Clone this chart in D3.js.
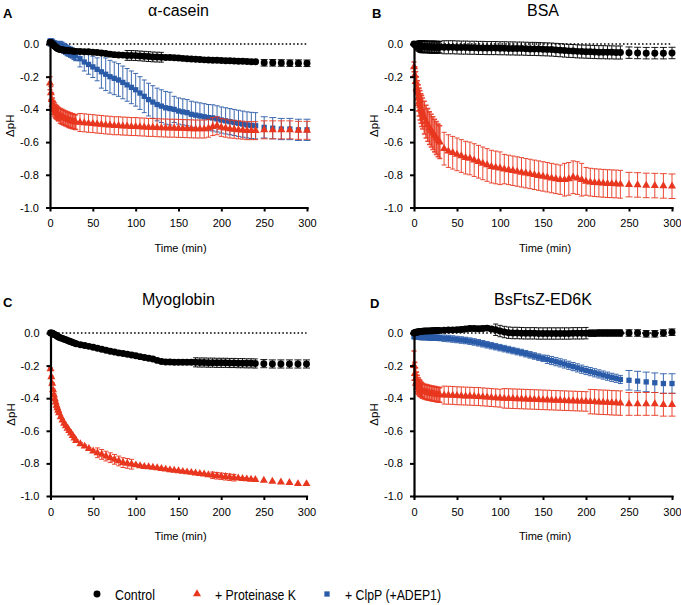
<!DOCTYPE html>
<html><head><meta charset="utf-8">
<script src="https://cdn.jsdelivr.net/npm/d3@7"></script>
<style>
body{margin:0;background:#fff}
svg{display:block}
text{font-family:"Liberation Sans",Arial,Helvetica,sans-serif;fill:#000}
</style>
</head><body>
<svg id="c" width="681" height="605"></svg>
<script>
// ---------- DATA ----------
const TIME = [0,1,2,3,4,5,6,7,8,9,10,
 12,14,16,18,20,22,24,26,28,30,
 35,40,45,50,55,60,65,70,75,80,
 85,90,95,100,105,110,115,120,125,130,
 135,140,145,150,155,160,165,170,175,180,
 185,190,195,200,205,210,215,220,225,230,
 235,240,
 250,260,270,280,290,300];

const X_TICKS = [0,50,100,150,200,250,300];
const Y_TICKS = [0,-0.2,-0.4,-0.6,-0.8,-1.0];
const Y_TICK_LABELS = ["0.0","-0.2","-0.4","-0.6","-0.8","-1.0"];
const SERIES_NAMES = ["Control","+ Proteinase K","+ ClpP (+ADEP1)"];
const PANEL_TITLES = ["α-casein","BSA","Myoglobin","BsFtsZ-ED6K"];
const PANEL_LETTERS = ["A","B","C","D"];

// Panel A: α-casein
const A_ctrl = [0.01,0.01,0.005,0,-0.005,-0.01,-0.015,-0.02,-0.025,-0.028,-0.03,
 -0.033,-0.035,-0.037,-0.039,-0.04,-0.041,-0.042,-0.043,-0.044,-0.045,
 -0.046,-0.047,-0.048,-0.05,-0.052,-0.055,-0.058,-0.062,-0.065,-0.067,
 -0.068,-0.07,-0.07,-0.071,-0.073,-0.075,-0.077,-0.079,-0.08,-0.081,
 -0.082,-0.083,-0.084,-0.086,-0.088,-0.09,-0.092,-0.093,-0.095,-0.097,
 -0.098,-0.099,-0.1,-0.101,-0.102,-0.103,-0.104,-0.105,-0.106,-0.107,
 -0.108,-0.109,
 -0.115,-0.115,-0.116,-0.117,-0.117,-0.118];
const A_ctrl_sd = [0.01,0.01,0.01,0.01,0.01,0.01,0.01,0.01,0.01,0.01,0.01,
 0.012,0.012,0.012,0.012,0.012,0.012,0.012,0.012,0.012,0.012,
 0.012,0.012,0.012,0.012,0.012,0.012,0.012,0.012,0.012,0.012,
 0.012,0.03,0.03,0.03,0.03,0.03,0.03,0.03,0.03,0.03,
 0.012,0.012,0.012,0.012,0.012,0.012,0.012,0.012,0.012,0.012,
 0.012,0.012,0.012,0.012,0.012,0.012,0.012,0.012,0.012,0.012,
 0.012,0.012,
 0.02,0.02,0.02,0.02,0.02,0.02];
const A_pk = [-0.24,-0.3,-0.34,-0.37,-0.39,-0.4,-0.41,-0.415,-0.42,-0.425,-0.43,
 -0.44,-0.445,-0.45,-0.455,-0.46,-0.465,-0.468,-0.472,-0.475,-0.478,
 -0.48,-0.482,-0.485,-0.487,-0.49,-0.492,-0.495,-0.497,-0.5,-0.5,
 -0.502,-0.503,-0.505,-0.505,-0.507,-0.508,-0.51,-0.51,-0.512,-0.513,
 -0.514,-0.515,-0.515,-0.516,-0.517,-0.518,-0.519,-0.52,-0.52,-0.52,
 -0.515,-0.505,-0.5,-0.51,-0.515,-0.52,-0.522,-0.525,-0.527,-0.53,
 -0.53,-0.53,
 -0.525,-0.525,-0.525,-0.525,-0.528,-0.528];
const A_pk_sd = [0.04,0.04,0.04,0.04,0.04,0.04,0.04,0.04,0.04,0.04,0.04,
 0.045,0.045,0.045,0.045,0.045,0.045,0.045,0.045,0.045,0.045,
 0.055,0.055,0.055,0.055,0.055,0.055,0.055,0.055,0.055,0.055,
 0.055,0.055,0.055,0.055,0.055,0.055,0.055,0.055,0.055,0.055,
 0.055,0.055,0.055,0.055,0.055,0.055,0.055,0.055,0.055,0.055,
 0.055,0.055,0.055,0.055,0.055,0.055,0.055,0.055,0.055,0.055,
 0.055,0.055,
 0.055,0.055,0.055,0.055,0.055,0.055];
const A_clp = [0.01,0.01,0.01,0.005,0,0,-0.005,-0.005,-0.01,-0.01,-0.012,
 -0.015,-0.02,-0.027,-0.033,-0.04,-0.045,-0.05,-0.056,-0.063,-0.07,
 -0.09,-0.11,-0.125,-0.14,-0.155,-0.17,-0.185,-0.2,-0.21,-0.22,
 -0.235,-0.25,-0.265,-0.28,-0.3,-0.32,-0.34,-0.355,-0.37,-0.38,
 -0.39,-0.395,-0.4,-0.41,-0.415,-0.42,-0.43,-0.435,-0.44,-0.445,
 -0.45,-0.452,-0.458,-0.465,-0.47,-0.475,-0.48,-0.485,-0.49,-0.495,
 -0.498,-0.5,
 -0.51,-0.515,-0.52,-0.52,-0.525,-0.525];
const A_clp_sd = [0.02,0.02,0.02,0.02,0.02,0.02,0.02,0.02,0.02,0.02,0.02,
 0.03,0.03,0.03,0.03,0.03,0.03,0.03,0.03,0.03,0.03,
 0.05,0.055,0.06,0.065,0.07,0.1,0.1,0.1,0.1,0.1,
 0.1,0.1,0.1,0.1,0.1,0.1,0.1,0.1,0.1,0.1,
 0.1,0.1,0.08,0.08,0.08,0.08,0.08,0.08,0.08,0.08,
 0.08,0.08,0.08,0.08,0.08,0.08,0.08,0.08,0.08,0.08,
 0.08,0.08,
 0.065,0.065,0.065,0.065,0.065,0.065];

// Panel B: BSA
const B_ctrl = [0,-0.005,-0.008,-0.01,-0.012,-0.013,-0.014,-0.015,-0.015,-0.016,-0.016,
 -0.017,-0.017,-0.018,-0.018,-0.019,-0.019,-0.019,-0.02,-0.02,-0.02,
 -0.02,-0.02,-0.02,-0.021,-0.022,-0.022,-0.023,-0.023,-0.024,-0.024,
 -0.025,-0.025,-0.025,-0.026,-0.026,-0.027,-0.027,-0.028,-0.028,-0.029,
 -0.03,-0.03,-0.031,-0.032,-0.033,-0.034,-0.036,-0.038,-0.04,-0.042,
 -0.043,-0.045,-0.046,-0.047,-0.048,-0.049,-0.05,-0.05,-0.051,-0.051,
 -0.052,-0.052,
 -0.053,-0.055,-0.056,-0.056,-0.056,-0.055];
const B_ctrl_sd = [0,0.01,0.015,0.02,0.025,0.03,0.03,0.035,0.035,0.035,0.035,
 0.035,0.035,0.035,0.035,0.035,0.035,0.035,0.035,0.035,0.035,
 0.04,0.04,0.04,0.04,0.04,0.04,0.04,0.04,0.04,0.04,
 0.04,0.04,0.04,0.04,0.04,0.04,0.04,0.04,0.04,0.04,
 0.04,0.04,0.04,0.04,0.04,0.04,0.04,0.04,0.04,0.04,
 0.04,0.04,0.04,0.04,0.04,0.04,0.04,0.04,0.04,0.04,
 0.04,0.04,
 0.035,0.035,0.035,0.035,0.035,0.035];
const B_pk = [-0.14,-0.19,-0.23,-0.27,-0.3,-0.33,-0.355,-0.375,-0.395,-0.41,-0.425,
 -0.45,-0.475,-0.495,-0.515,-0.53,-0.545,-0.56,-0.575,-0.59,-0.6,
 -0.64,-0.655,-0.665,-0.675,-0.685,-0.695,-0.7,-0.71,-0.72,-0.73,
 -0.74,-0.75,-0.755,-0.76,-0.765,-0.77,-0.775,-0.78,-0.785,-0.79,
 -0.795,-0.8,-0.805,-0.81,-0.815,-0.82,-0.825,-0.83,-0.83,-0.825,
 -0.815,-0.82,-0.83,-0.84,-0.845,-0.848,-0.85,-0.852,-0.854,-0.855,
 -0.856,-0.858,
 -0.86,-0.862,-0.865,-0.866,-0.868,-0.87];
const B_pk_sd = [0.03,0.05,0.06,0.07,0.075,0.08,0.085,0.09,0.09,0.095,0.095,
 0.1,0.1,0.1,0.1,0.1,0.1,0.1,0.1,0.1,0.1,
 0.1,0.1,0.1,0.1,0.1,0.1,0.1,0.1,0.1,0.1,
 0.1,0.1,0.1,0.1,0.09,0.09,0.09,0.09,0.09,0.09,
 0.09,0.09,0.09,0.09,0.09,0.09,0.09,0.09,0.1,0.1,
 0.1,0.1,0.1,0.085,0.085,0.085,0.085,0.085,0.085,0.085,
 0.085,0.085,
 0.075,0.075,0.075,0.075,0.075,0.075];

// Panel C: Myoglobin
const C_ctrl = [0,0,-0.002,-0.005,-0.008,-0.01,-0.013,-0.016,-0.02,-0.023,-0.026,
 -0.03,-0.034,-0.038,-0.042,-0.046,-0.05,-0.054,-0.058,-0.062,-0.066,
 -0.072,-0.077,-0.082,-0.088,-0.093,-0.1,-0.106,-0.112,-0.117,-0.122,
 -0.126,-0.13,-0.135,-0.14,-0.145,-0.15,-0.155,-0.16,-0.168,-0.175,
 -0.178,-0.178,-0.179,-0.179,-0.18,-0.18,-0.18,-0.18,-0.181,-0.181,
 -0.182,-0.182,-0.183,-0.183,-0.183,-0.184,-0.184,-0.185,-0.185,-0.186,
 -0.186,-0.187,
 -0.188,-0.19,-0.19,-0.19,-0.19,-0.19];
const C_ctrl_sd = [0.003,0.003,0.003,0.003,0.003,0.003,0.003,0.003,0.003,0.003,0.003,
 0.003,0.003,0.003,0.003,0.003,0.003,0.003,0.003,0.003,0.003,
 0.003,0.003,0.003,0.003,0.003,0.003,0.003,0.003,0.003,0.003,
 0.003,0.003,0.003,0.003,0.003,0.003,0.003,0.003,0.008,0.008,
 0.008,0.008,0.008,0.008,0.008,0.008,0.008,0.028,0.028,0.028,
 0.028,0.028,0.028,0.028,0.028,0.028,0.028,0.028,0.028,0.028,
 0.028,0.028,
 0.025,0.025,0.025,0.025,0.025,0.025];
const C_pk = [-0.22,-0.27,-0.31,-0.35,-0.38,-0.405,-0.425,-0.445,-0.46,-0.475,-0.49,
 -0.515,-0.535,-0.555,-0.57,-0.585,-0.6,-0.615,-0.63,-0.645,-0.66,
 -0.68,-0.695,-0.71,-0.725,-0.735,-0.745,-0.755,-0.765,-0.775,-0.785,
 -0.795,-0.8,-0.805,-0.81,-0.815,-0.82,-0.822,-0.825,-0.828,-0.832,
 -0.836,-0.84,-0.843,-0.846,-0.85,-0.853,-0.856,-0.86,-0.863,-0.866,
 -0.87,-0.873,-0.876,-0.879,-0.882,-0.885,-0.888,-0.89,-0.893,-0.896,
 -0.898,-0.9,
 -0.905,-0.91,-0.915,-0.918,-0.925,-0.925];
const C_pk_sd = [0.005,0.005,0.005,0.005,0.005,0.005,0.005,0.005,0.005,0.005,0.005,
 0.005,0.005,0.005,0.005,0.005,0.005,0.005,0.005,0.005,0.005,
 0.008,0.008,0.008,0.008,0.03,0.03,0.03,0.03,0.03,0.03,
 0.03,0.03,0.03,0.005,0.005,0.005,0.005,0.005,0.005,0.005,
 0.005,0.005,0.005,0.005,0.005,0.005,0.005,0.005,0.005,0.005,
 0.005,0.02,0.02,0.02,0.02,0.02,0.02,0.005,0.005,0.005,
 0.005,0.005,
 0.004,0.004,0.004,0.004,0.004,0.004];

// Panel D: BsFtsZ-ED6K
const D_ctrl = [0,0.002,0.004,0.005,0.006,0.007,0.008,0.009,0.01,0.01,0.011,
 0.012,0.012,0.013,0.013,0.014,0.014,0.015,0.015,0.015,0.016,
 0.017,0.018,0.019,0.02,0.022,0.025,0.028,0.027,0.026,0.028,
 0.03,0.025,0.02,0.012,0.006,0.002,0,0,-0.001,-0.002,
 -0.002,-0.002,-0.003,-0.003,-0.003,-0.003,-0.003,-0.003,-0.003,-0.003,
 -0.002,-0.002,-0.002,-0.001,-0.001,-0.001,0,0,0,0,
 0,0,
 0,0,-0.005,-0.005,0,0.005];
const D_ctrl_sd = [0.01,0.01,0.01,0.01,0.01,0.01,0.01,0.01,0.01,0.01,0.01,
 0.01,0.01,0.01,0.01,0.01,0.01,0.01,0.01,0.01,0.01,
 0.01,0.01,0.01,0.01,0.015,0.015,0.015,0.015,0.015,0.015,
 0.015,0.015,0.035,0.035,0.035,0.035,0.035,0.035,0.035,0.035,
 0.035,0.035,0.035,0.035,0.035,0.035,0.035,0.035,0.035,0.035,
 0.035,0.035,0.035,0.035,0.02,0.02,0.02,0.02,0.02,0.02,
 0.02,0.02,
 0.02,0.02,0.02,0.02,0.02,0.02];
const D_pk = [-0.2,-0.25,-0.28,-0.3,-0.315,-0.325,-0.335,-0.34,-0.345,-0.35,-0.355,
 -0.36,-0.362,-0.365,-0.367,-0.37,-0.372,-0.374,-0.376,-0.378,-0.38,
 -0.381,-0.382,-0.383,-0.385,-0.386,-0.387,-0.388,-0.389,-0.39,-0.392,
 -0.394,-0.396,-0.398,-0.4,-0.401,-0.402,-0.403,-0.404,-0.405,-0.406,
 -0.407,-0.408,-0.409,-0.41,-0.411,-0.412,-0.413,-0.414,-0.415,-0.416,
 -0.417,-0.418,-0.419,-0.42,-0.421,-0.422,-0.424,-0.425,-0.426,-0.428,
 -0.429,-0.43,
 -0.435,-0.435,-0.435,-0.435,-0.44,-0.44];
const D_pk_sd = [0.09,0.07,0.065,0.06,0.055,0.05,0.05,0.05,0.045,0.045,0.045,
 0.045,0.045,0.045,0.045,0.045,0.045,0.045,0.045,0.045,0.045,
 0.055,0.055,0.055,0.055,0.055,0.055,0.055,0.055,0.055,0.055,
 0.055,0.055,0.055,0.055,0.06,0.06,0.06,0.06,0.06,0.06,
 0.06,0.06,0.06,0.06,0.06,0.06,0.06,0.06,0.06,0.06,
 0.06,0.06,0.06,0.06,0.075,0.075,0.075,0.075,0.075,0.075,
 0.075,0.075,
 0.07,0.07,0.07,0.07,0.07,0.07];
const D_clp = [-0.02,-0.02,-0.021,-0.021,-0.022,-0.022,-0.023,-0.023,-0.024,-0.024,-0.025,
 -0.025,-0.026,-0.026,-0.027,-0.027,-0.028,-0.028,-0.029,-0.029,-0.03,
 -0.032,-0.034,-0.037,-0.04,-0.043,-0.046,-0.05,-0.055,-0.06,-0.066,
 -0.072,-0.078,-0.084,-0.09,-0.096,-0.102,-0.108,-0.114,-0.12,-0.127,
 -0.134,-0.141,-0.148,-0.155,-0.162,-0.169,-0.176,-0.183,-0.19,-0.198,
 -0.206,-0.214,-0.222,-0.23,-0.237,-0.244,-0.251,-0.258,-0.265,-0.272,
 -0.278,-0.285,
 -0.29,-0.295,-0.3,-0.305,-0.31,-0.31];
const D_clp_sd = [0.015,0.015,0.015,0.015,0.015,0.015,0.015,0.015,0.015,0.015,0.015,
 0.015,0.015,0.015,0.015,0.015,0.015,0.015,0.015,0.015,0.015,
 0.02,0.02,0.02,0.02,0.02,0.02,0.02,0.02,0.02,0.02,
 0.02,0.02,0.02,0.02,0.02,0.02,0.02,0.02,0.02,0.02,
 0.02,0.02,0.02,0.02,0.025,0.025,0.025,0.025,0.025,0.025,
 0.025,0.025,0.025,0.025,0.025,0.025,0.025,0.025,0.025,0.025,
 0.025,0.025,
 0.06,0.06,0.06,0.06,0.06,0.06];

// ---------- STYLE / LAYOUT ----------
const COLORS = {ctrl:"#000000", pk:"#e8361f", clp:"#2a5ba8"};
const SYMBOLS = {ctrl:d3.symbolCircle, pk:d3.symbolTriangle, clp:d3.symbolSquare};
const SYM_SIZE = {ctrl:38, pk:28, clp:28};

const panels = [
  {i:0, box:{x0:50, x1:307, yt:44, yb:207.5}, letter:{x:3, y:18}, titleY:16,
   series:[{k:"clp", m:A_clp, s:A_clp_sd},{k:"pk", m:A_pk, s:A_pk_sd},{k:"ctrl", m:A_ctrl, s:A_ctrl_sd}]},
  {i:1, box:{x0:414, x1:672, yt:44, yb:207.5}, letter:{x:372, y:18}, titleY:16,
   series:[{k:"pk", m:B_pk, s:B_pk_sd},{k:"ctrl", m:B_ctrl, s:B_ctrl_sd}]},
  {i:2, box:{x0:50.5, x1:306.5, yt:333, yb:496}, letter:{x:3, y:307}, titleY:305,
   series:[{k:"pk", m:C_pk, s:C_pk_sd},{k:"ctrl", m:C_ctrl, s:C_ctrl_sd}]},
  {i:3, box:{x0:414, x1:672, yt:333, yb:496}, letter:{x:370, y:308}, titleY:305,
   series:[{k:"clp", m:D_clp, s:D_clp_sd},{k:"pk", m:D_pk, s:D_pk_sd},{k:"ctrl", m:D_ctrl, s:D_ctrl_sd}]}
];

const svg = d3.select("#c");

panels.forEach(p => {
  const b = p.box;
  const x = d3.scaleLinear().domain([0,300]).range([b.x0,b.x1]);
  const y = d3.scaleLinear().domain([-1,0]).range([b.yb,b.yt]);
  const g = svg.append("g");

  // dotted zero line
  g.append("line")
    .attr("x1", x(0)).attr("x2", x(300)).attr("y1", y(0)).attr("y2", y(0))
    .attr("stroke","#000").attr("stroke-width",1.6).attr("stroke-dasharray","1.6,2.2");

  // series
  p.series.forEach(s => {
    const data = TIME.map((t,j)=>({t, m:s.m[j], sd:s.s[j]}));
    const col = COLORS[s.k];
    const sg = g.append("g");
    sg.selectAll("path.err").data(data.filter(d=>d.sd>0.004)).join("path")
      .attr("class","err")
      .attr("fill","none").attr("stroke",col)
      .attr("stroke-width", d => d.t<=30 ? 1.6 : 1)
      .attr("stroke-opacity",0.9)
      .attr("d", d => {
        const cx = x(d.t), w = d.t>240 ? 3.5 : 2.5;
        const y1 = y(d.m + d.sd), y2 = y(d.m - d.sd);
        return `M${cx-w},${y1}H${cx+w}M${cx},${y1}V${y2}M${cx-w},${y2}H${cx+w}`;
      });
    sg.selectAll("path.mk").data(data).join("path")
      .attr("class","mk")
      .attr("fill",col)
      .attr("transform", d=>`translate(${x(d.t)},${y(d.m)})`)
      .attr("d", d3.symbol().type(SYMBOLS[s.k]).size(SYM_SIZE[s.k]));
  });

  // axes
  const ya = g.append("g").attr("transform",`translate(${b.x0},0)`)
    .call(d3.axisLeft(y).tickValues(Y_TICKS).tickFormat((d,i)=>Y_TICK_LABELS[i])
      .tickSize(4).tickPadding(7).tickSizeOuter(0));
  const xa = g.append("g").attr("transform",`translate(0,${b.yb})`)
    .call(d3.axisBottom(x).tickValues(X_TICKS).tickFormat(d=>String(d))
      .tickSize(4).tickPadding(8).tickSizeOuter(0));
  [ya,xa].forEach(a=>{
    a.select(".domain").attr("stroke-width",2.2).attr("stroke-linecap","square");
    a.selectAll(".tick line").attr("stroke-width",2);
    a.selectAll(".tick text").attr("font-size",11).attr("font-family",'"Liberation Sans",Arial,sans-serif');
  });

  // labels
  g.append("text").attr("x",(b.x0+b.x1)/2+2).attr("y",b.yb+44)
    .attr("text-anchor","middle").attr("font-size",11).text("Time (min)");
  g.append("text").attr("transform",`translate(${b.x0-36},${(b.yt+b.yb)/2}) rotate(-90)`)
    .attr("text-anchor","middle").attr("font-size",11.5).text("ΔpH");
  g.append("text").attr("x",(b.x0+b.x1)/2).attr("y",p.titleY)
    .attr("text-anchor","middle").attr("font-size",16).text(PANEL_TITLES[p.i]);
  g.append("text").attr("x",p.letter.x).attr("y",p.letter.y)
    .attr("font-size",13).attr("font-weight","bold").text(PANEL_LETTERS[p.i]);
});

// legend
const legendKeys = ["ctrl","pk","clp"];
const legendX = d3.scaleOrdinal().domain(legendKeys).range([97,197,327]);
const legendW = [40,81,96];
const lg = svg.append("g");
legendKeys.forEach((k,i)=>{
  lg.append("path").attr("fill",COLORS[k])
    .attr("transform",`translate(${legendX(k)},594)`)
    .attr("d", d3.symbol().type(SYMBOLS[k]).size(SYM_SIZE[k]));
  lg.append("text").attr("x",legendX(k)+18).attr("y",600)
    .attr("font-size",14.5).attr("textLength",legendW[i]).attr("lengthAdjust","spacingAndGlyphs")
    .text(SERIES_NAMES[i]);
});
</script>
</body></html>
